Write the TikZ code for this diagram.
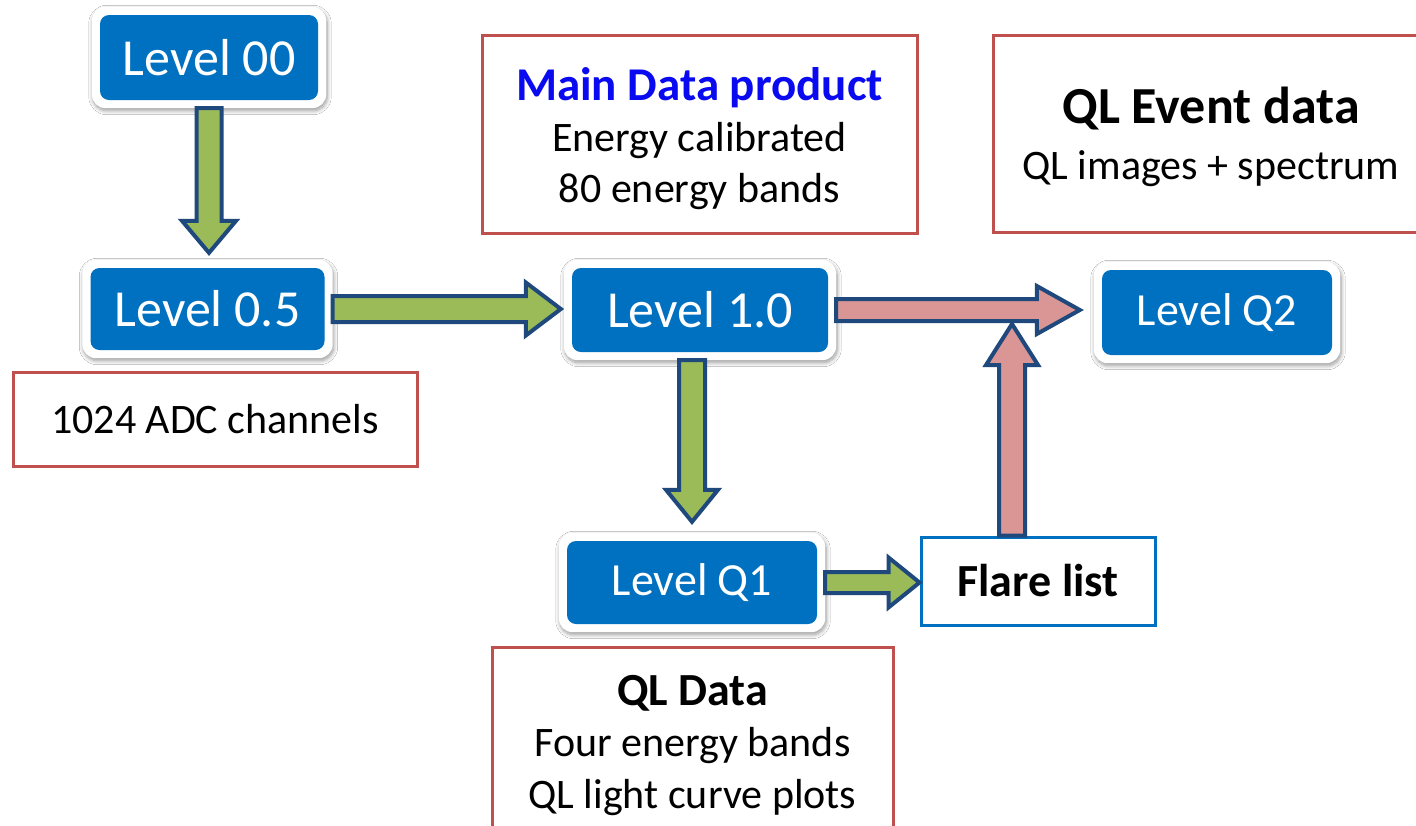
\documentclass[tikz,border=0pt]{standalone}
\usepackage{fontspec}
\setmainfont{Carlito}
\usetikzlibrary{calc,fit,backgrounds,shadows.blur}
\definecolor{lvlblue}{HTML}{0070C0}
\definecolor{boxred}{HTML}{C0504D}
\definecolor{agreen}{HTML}{9BBB59}
\definecolor{apink}{HTML}{D99694}
\definecolor{aline}{HTML}{1F497D}
\definecolor{titleblue}{HTML}{0A0AF0}
% block arrows: style, start, end, shaft half width, head half width, head length
\newcommand{\blkR}[6]{\draw[#1] ($(#2)+(0,-#4)$) -- ($(#3 |- #2)+(-#6,-#4)$) -- ($(#3 |- #2)+(-#6,-#5)$) -- (#3 |- #2) -- ($(#3 |- #2)+(-#6,#5)$) -- ($(#3 |- #2)+(-#6,#4)$) -- ($(#2)+(0,#4)$) -- cycle;}
\newcommand{\blkD}[6]{\draw[#1] ($(#2)+(-#4,0)$) -- ($(#2 |- #3)+(-#4,-#6)$) -- ($(#2 |- #3)+(-#5,-#6)$) -- (#2 |- #3) -- ($(#2 |- #3)+(#5,-#6)$) -- ($(#2 |- #3)+(#4,-#6)$) -- ($(#2)+(#4,0)$) -- cycle;}
\newcommand{\blkU}[6]{\draw[#1] ($(#2)+(-#4,0)$) -- ($(#2 |- #3)+(-#4,#6)$) -- ($(#2 |- #3)+(-#5,#6)$) -- (#2 |- #3) -- ($(#2 |- #3)+(#5,#6)$) -- ($(#2 |- #3)+(#4,#6)$) -- ($(#2)+(#4,0)$) -- cycle;}
\tikzset{
  lvl/.style={fill=lvlblue, rounded corners=9pt, text=white, font=\fontsize{52}{60}\selectfont, inner sep=0pt},
  lvlq/.style={lvl, font=\fontsize{46}{54}\selectfont},
  frame/.style={fill=white, rounded corners=14pt, inner sep=8pt, outer sep=0pt,
    blur shadow={shadow xshift=1pt, shadow yshift=-2.5pt, shadow blur steps=8, shadow blur radius=4pt, shadow opacity=40}},
  redbox/.style={draw=boxred, line width=3pt, fill=white, align=center, font=\fontsize{42}{51}\selectfont, inner sep=0pt},
  flarebox/.style={draw=lvlblue, line width=3pt, fill=white, inner sep=0pt, font=\bfseries\fontsize{46}{52}\selectfont},
  garrow/.style={fill=agreen, draw=aline, line width=4pt, line join=miter, miter limit=10},
  parrow/.style={garrow, fill=apink},
}
\begin{document}
\begin{tikzpicture}[x=1pt, y=-1pt]
\useasboundingbox (0,0) rectangle (1416,825);

% red annotation boxes
\node[redbox, minimum width=435pt, minimum height=198pt] (main) at (699.5,134)
  {{\rule{0pt}{43pt}\bfseries\color{titleblue}\fontsize{47}{51}\selectfont Main Data product}\\Energy calibrated\\80 energy bands};
\node[redbox, minimum width=436pt, minimum height=197pt, font=\fontsize{42}{56}\selectfont] (qlev) at (1211,133.5)
  {{\rule{0pt}{44pt}\bfseries\fontsize{52}{56}\selectfont QL Event data}\\QL images + spectrum};
\node[redbox, minimum width=404pt, minimum height=94pt] (adc) at (215,419) {1024 ADC channels};
\node[redbox, minimum width=401pt, minimum height=189pt, font=\fontsize{42}{51.5}\selectfont] (qld) at (692.5,741.5)
  {{\rule{0pt}{38pt}\bfseries\fontsize{46}{51.5}\selectfont QL Data}\\Four energy bands\\QL light curve plots};

% level nodes
\node[lvl, minimum width=218pt, minimum height=85pt] (l00) at (209,57.5) {Level 00};
\node[lvl, minimum width=234pt, minimum height=82pt] (l05) at (207.5,309) {Level 0.5};
\node[lvl, minimum width=256pt, minimum height=84pt] (l10) at (700,310) {Level 1.0};
\node[lvlq, minimum width=230pt, minimum height=85pt] (lq2) at (1217,312.5) {Level Q2};
\node[lvlq, minimum width=250pt, minimum height=83pt] (lq1) at (692,582.5) {Level Q1};
\node[flarebox, minimum width=234pt, minimum height=88pt] (flare) at (1038,581) {Flare list};

\begin{scope}[on background layer]
  \fill[white] (0,0) rectangle (1416,825);
  \node[frame, fit=(l00)] (f00) {};
  \node[frame, fit=(l05)] (f05) {};
  \node[frame, fit=(l10)] (f10) {};
  \node[frame, fit=(lq2)] (fq2) {};
  \node[frame, fit=(lq1)] (fq1) {};
\end{scope}

% connector end points
\coordinate (a1s) at (f00.south);
\coordinate (a1e) at ($(f00.south |- f05.north)+(0,-7)$);
\coordinate (a2s) at (f05.east);
\coordinate (a2e) at ($(f05.east -| f10.west)+(-3,0)$);
\coordinate (a3s) at (f10.south -| fq1.north);
\coordinate (a3e) at ($(a3s |- fq1.north)+(0,-11)$);
\coordinate (a4s) at (fq1.east);
\coordinate (a4e) at (fq1.east -| flare.west);
\coordinate (a5s) at (f10.east);
\coordinate (a5e) at ($(f10.east -| fq2.west)+(-14,0)$);
\coordinate (a6s) at ($(flare.north)+(-26,0)$);
\coordinate (a6e) at ($(a6s |- a5s)+(0,14)$);

% arrows
\blkD{garrow}{a1s}{a1e}{12.5}{27}{32}
\blkR{garrow}{a2s}{a2e}{13}{26.5}{35}
\blkD{garrow}{a3s}{a3e}{13}{26}{32}
\blkR{garrow}{a4s}{a4e}{10.5}{25}{31}
\blkR{parrow}{a5s}{a5e}{11}{24}{43}
\blkU{parrow}{a6s}{a6e}{13}{26}{41}
\end{tikzpicture}
\end{document}
